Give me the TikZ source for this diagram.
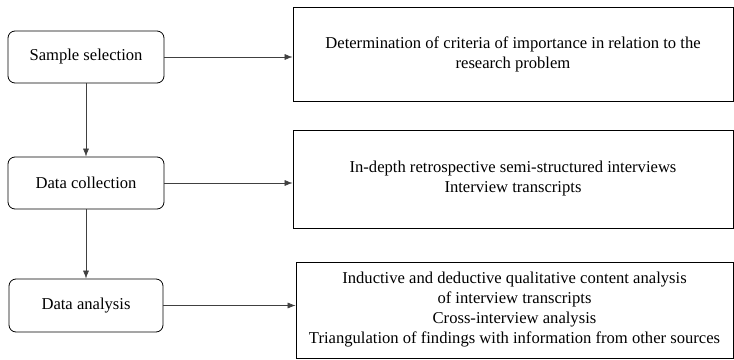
\documentclass[tikz,border=0pt]{standalone}
\usepackage{fontspec}
\setmainfont{Liberation Serif}
\usetikzlibrary{shapes,arrows,arrows.meta,positioning,calc}

\tikzset{
    stagebox/.style={draw, thick, rounded corners=7pt, minimum width=156pt, minimum height=52pt, align=center, font=\fontsize{16.6}{20}\selectfont},
    detailbox/.style={draw, thick, minimum width=440pt, align=center, font=\fontsize{16.6}{20}\selectfont},
    flow/.style={-{Latex[length=8pt,width=6pt]}, draw=black!75, semithick}
}

\begin{document}
\begin{tikzpicture}[x=1pt,y=-1pt]
    \useasboundingbox (0,0) rectangle (734,359);
    % Stages
    \node[stagebox] (sample) at (86,57) {Sample selection};
    \node[stagebox] (collect) at (86,183) {Data collection};
    \node[stagebox, minimum width=154pt, minimum height=53pt] (analysis) at (86,305.5) {Data analysis};
    % Details
    \node[detailbox, minimum height=94pt] (criteria) at (513,54) {Determination of criteria of importance in relation to the\\research problem};
    \node[detailbox, minimum height=98pt] (interviews) at (513,179) {In-depth retrospective semi-structured interviews\\Interview transcripts};
    \node[detailbox, minimum width=437pt, minimum height=96pt] (content) at (514.5,310) {Inductive and deductive qualitative content analysis\\of interview transcripts\\Cross-interview analysis\\Triangulation of findings with information from other sources};
    % Arrows
    \draw[flow] (sample) -- (collect);
    \draw[flow] (collect) -- (analysis);
    \foreach \from/\to in {sample/criteria, collect/interviews, analysis/content} {
        \draw[flow] (\from.east) -- (\from.east -| \to.west);
    }
\end{tikzpicture}
\end{document}
